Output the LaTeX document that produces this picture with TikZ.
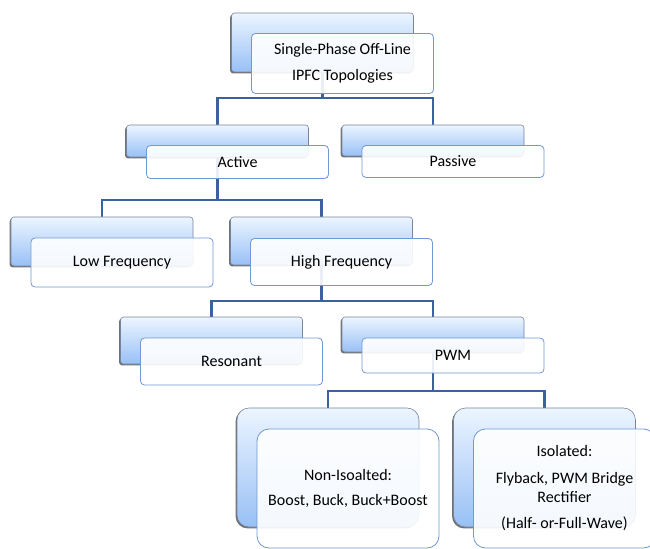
\documentclass[tikz,border=0pt]{standalone}
\usepackage{fontspec}
\setmainfont{Carlito}
\usetikzlibrary{positioning,backgrounds,shadows}
\definecolor{linkblue}{RGB}{58,98,160}
\definecolor{backtop}{RGB}{236,245,255}
\definecolor{backbot}{RGB}{152,192,246}
\definecolor{backedge}{RGB}{120,132,155}
\definecolor{frontedge}{RGB}{112,152,212}
\tikzset{
  back/.style={rectangle,rounded corners=3bp,minimum width=182bp,inner sep=0,
    top color=backtop,bottom color=backbot,draw=backedge,line width=.6bp,
    drop shadow={shadow xshift=-1.4bp,shadow yshift=-1.4bp,fill=black!65,opacity=.85}},
  front/.style={rectangle,rounded corners=4bp,minimum width=182bp,inner sep=0,
    draw=frontedge,line width=.8bp,fill=white,fill opacity=.9,text opacity=1,
    align=center,font=\fontsize{16bp}{19.5bp}\selectfont},
  big/.style={rounded corners=12bp},
  link/.style={draw=linkblue,line width=2.2bp}
}
\begin{document}
\begin{tikzpicture}[x=1bp,y=-1bp]
  \useasboundingbox (0,0) rectangle (650,549);
  \clip (0,0) rectangle (650,549);
  % back boxes
  \node[back,minimum height=59bp] (top-b) at (322.5,42.5) {};
  \node[back,minimum height=32bp] (active-b) at (217.5,141) {};
  \node[back,minimum height=31bp] (passive-b) at (433,140.5) {};
  \node[back,minimum height=49bp] (low-b) at (102,241.5) {};
  \node[back,minimum height=48bp] (high-b) at (321.5,241) {};
  \node[back,minimum height=47bp] (res-b) at (211.5,340.5) {};
  \node[back,minimum height=35bp] (pwm-b) at (433,334.5) {};
  \node[back,big,minimum height=119bp] (nonisol-b) at (328,467.5) {};
  \node[back,big,minimum height=119bp] (isol-b) at (544.5,467.5) {};
  % front boxes
  \node[front,minimum height=60bp] (top) at ([xshift=20bp,yshift=-21bp]top-b.center)
    {Single-Phase Off-Line\\[6.5bp]IPFC Topologies};
  \node[front,minimum height=33bp] (active) at ([xshift=20bp,yshift=-21bp]active-b.center) {Active};
  \node[front,minimum height=32bp] (passive) at ([xshift=20bp,yshift=-21bp]passive-b.center) {Passive};
  \node[front,minimum height=49bp] (low) at ([xshift=20bp,yshift=-21bp]low-b.center) {Low Frequency};
  \node[front,minimum height=47bp] (high) at ([xshift=20bp,yshift=-21bp]high-b.center) {High Frequency};
  \node[front,minimum height=47bp] (res) at ([xshift=20bp,yshift=-21bp]res-b.center) {Resonant};
  \node[front,minimum height=35bp] (pwm) at ([xshift=20bp,yshift=-21bp]pwm-b.center) {PWM};
  \node[front,big,minimum height=119bp] (nonisol) at ([xshift=20bp,yshift=-21bp]nonisol-b.center)
    {Non-Isoalted:\\[6bp]Boost, Buck, Buck+Boost};
  \node[front,big,minimum height=119bp] (isol) at ([xshift=20bp,yshift=-21bp]isol-b.center)
    {Isolated:\\[7bp]Flyback, PWM Bridge\\Rectifier\\[6.5bp](Half- or-Full-Wave)};
  % connectors
  \coordinate (j1) at ([yshift=-26bp]top-b.south);
  \coordinate (j2) at ([yshift=-43bp]active-b.south);
  \coordinate (j3) at ([yshift=-36bp]high-b.south);
  \coordinate (j4) at ([yshift=-39bp]pwm-b.south);
  \begin{scope}[on background layer]
    \draw[link] (top-b.south) -- (j1) -| (active-b.north);
    \draw[link] (j1) -| (passive-b.north);
    \draw[link] (active-b.south) -- (j2) -| (low-b.north);
    \draw[link] (j2) -| (high-b.north);
    \draw[link] (high-b.south) -- (j3) -| (res-b.north);
    \draw[link] (j3) -| (pwm-b.north);
    \draw[link] (pwm-b.south) -- (j4) -| (nonisol-b.north);
    \draw[link] (j4) -| (isol-b.north);
  \end{scope}
\end{tikzpicture}
\end{document}
